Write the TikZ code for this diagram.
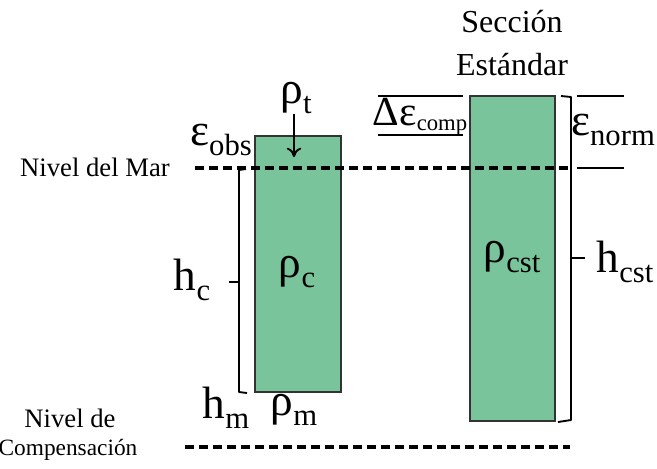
\documentclass[tikz,border=0pt]{standalone}
\usepackage{fontspec}
\setmainfont{Liberation Serif}
\usetikzlibrary{arrows.meta}

\definecolor{crustgreen}{RGB}{122,196,155}
\newcommand{\sbs}[1]{\raisebox{-0.22em}{\fontsize{23}{23}\selectfont #1}}

\tikzset{
  column/.style={draw=black!80, line width=1.1pt, fill=crustgreen, inner sep=0pt},
  sealine/.style={line width=2.3pt, dash pattern=on 7pt off 3.5pt},
  brace/.style={line width=1.4pt, line join=round},
  plain/.style={font=\fontsize{20}{22}\selectfont, inner sep=0pt},
  big/.style={font=\fontsize{34}{34}\selectfont, inner sep=0pt},
}

\begin{document}
\begin{tikzpicture}[x=0.75pt, y=-0.75pt]
\useasboundingbox (0,0) rectangle (657,468);

% Columns
\node[column, minimum width=64.5pt, minimum height=192pt] (crust) at (298,264) {};
\node[column, minimum width=63.75pt, minimum height=243.75pt] (std) at (512.5,258.5) {};

% Levels
\draw[sealine] (195,168) -- (568,168);
\draw[sealine] (185,447) -- (570,447);
\node[plain] (sealabel) at (95,167) {Nivel del Mar};
\node[plain] (complabel1) at (70,418) {Nivel de};
\node[plain, font=\fontsize{17.5}{22}\selectfont] (complabel2) at (68,450) {Compensación};

% Crust column labels
\node[big] (rhoc) at (297,272) {ρ\sbs{c}};
\node[big] (rhot) at (296,98) {ρ\sbs{t}};
\coordinate (tip) at (294,157);
\draw[-{To[length=7pt,width=11pt]}, line width=1.4pt] (rhot.south -| tip) -- (tip);
\node[big] (epsobs) at (221,140) {ε\sbs{obs}};

% Bracket h_c
\draw[brace] (246,169) -- (239,170) -- (239,392) -- (247,393);
\draw[brace] (239,282) -- (229,282);
\node[big] (hc) at (192,280) {h\sbs{c}};
\node[big] (hm) at (226,408) {h\sbs{m}};
\node[big] (rhom) at (294,410) {ρ\sbs{m}};

% Standard column labels
\node[plain, font=\fontsize{24}{24}\selectfont] (sec1) at (512,22) {Sección};
\node[plain, font=\fontsize{24}{24}\selectfont] (sec2) at (512,65) {Estándar};
\node[big] (rhocst) at (512,257) {ρ\sbs{cst}};

% Delta eps comp
\draw[line width=1.6pt] (378,96) -- (463,96);
\draw[line width=1.6pt] (378,135) -- (463,135);
\node[big, font=\fontsize{31}{31}\selectfont] (deltacomp) at (420,117) {Δε{\fontsize{17}{17}\selectfont\raisebox{-0.22em}{comp}}};

% Bracket h_cst
\draw[brace] (561,96) -- (571,97) -- (571,420) -- (558,422);
\draw[brace] (571,258) -- (585,258);
\node[big] (hcst) at (625,262) {h\sbs{cst}};

% eps norm
\draw[line width=1.3pt] (577,96) -- (624,96);
\draw[line width=1.3pt] (577,168) -- (624,168);
\node[big] (epsnorm) at (613,130) {ε\sbs{norm}};
\end{tikzpicture}
\end{document}
